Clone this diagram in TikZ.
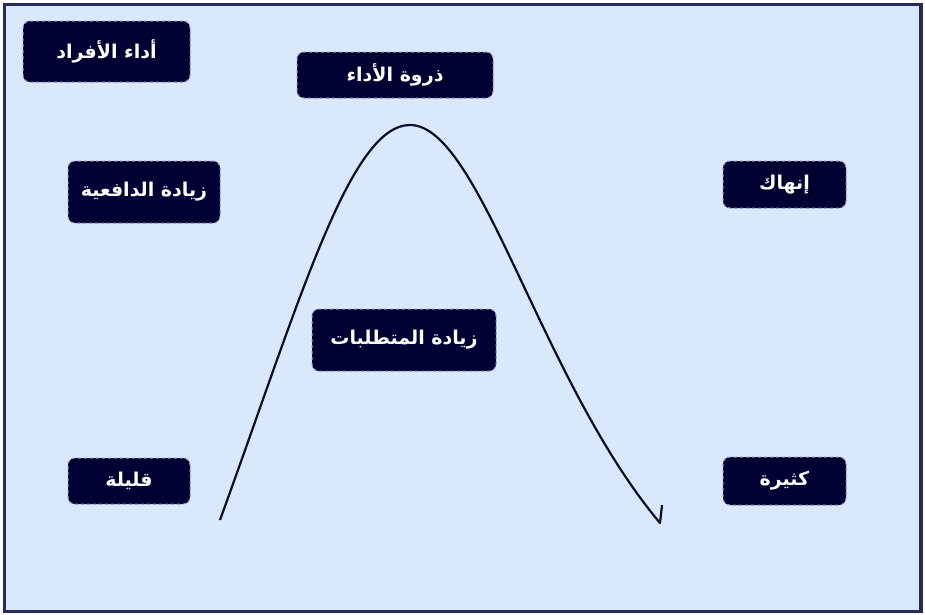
\documentclass[tikz,border=0pt]{standalone}
\usepackage{fontspec}
\newfontfamily\arabicfont[Script=Arabic]{DejaVu Sans}
\TeXXeTstate=1
\definecolor{bgblue}{HTML}{DAE8FC}
\definecolor{boxfill}{HTML}{000033}
\definecolor{boxline}{HTML}{8A96B8}
\definecolor{framecol}{HTML}{262B5C}
\definecolor{curvecol}{HTML}{0A0A33}
\tikzset{
  lbl/.style={draw=boxline, dashed, line width=1pt, fill=boxfill, rounded corners=7pt,
    text=white, font=\arabicfont\bfseries\fontsize{19}{22}\selectfont, inner sep=0pt, align=center},
}
\newcommand{\ar}[1]{\beginR #1\endR}
\begin{document}
\begin{tikzpicture}[x=1pt,y=-1pt]
\useasboundingbox (0,0) rectangle (925,614);
\fill[white] (0,0) rectangle (925,614);
\draw[framecol, line width=3.5pt, fill=bgblue] (4.5,4.5) rectangle (921,611.5);

\node[lbl, minimum width=167pt, minimum height=61pt] (perf) at (106.5,51.5) {\ar{أداء الأفراد}};
\node[lbl, minimum width=196pt, minimum height=46pt] (peak) at (395,75) {\ar{ذروة الأداء}};
\node[lbl, minimum width=152pt, minimum height=62pt] (motiv) at (144,192) {\ar{زيادة الدافعية}};
\node[lbl, minimum width=123pt, minimum height=47pt] (exhaust) at (784.5,184.5) {\ar{إنهاك}};
\node[lbl, minimum width=184pt, minimum height=62pt] (demand) at (404,340) {\ar{زيادة المتطلبات}};
\node[lbl, minimum width=122pt, minimum height=46pt] (few) at (129,481) {\ar{قليلة}};
\node[lbl, minimum width=123pt, minimum height=48pt] (many) at (784.5,481) {\ar{كثيرة}};

\coordinate (s) at (220,520);
\coordinate (p) at (410,125);
\coordinate (e) at (660,523);
\coordinate (h) at (662,505);
\draw[curvecol, line width=2.2pt, line join=round]
  (s) .. controls (300,300) and (350,125) .. (p)
      .. controls (480,125) and (540,380) .. (e) -- (h);
\end{tikzpicture}
\end{document}
